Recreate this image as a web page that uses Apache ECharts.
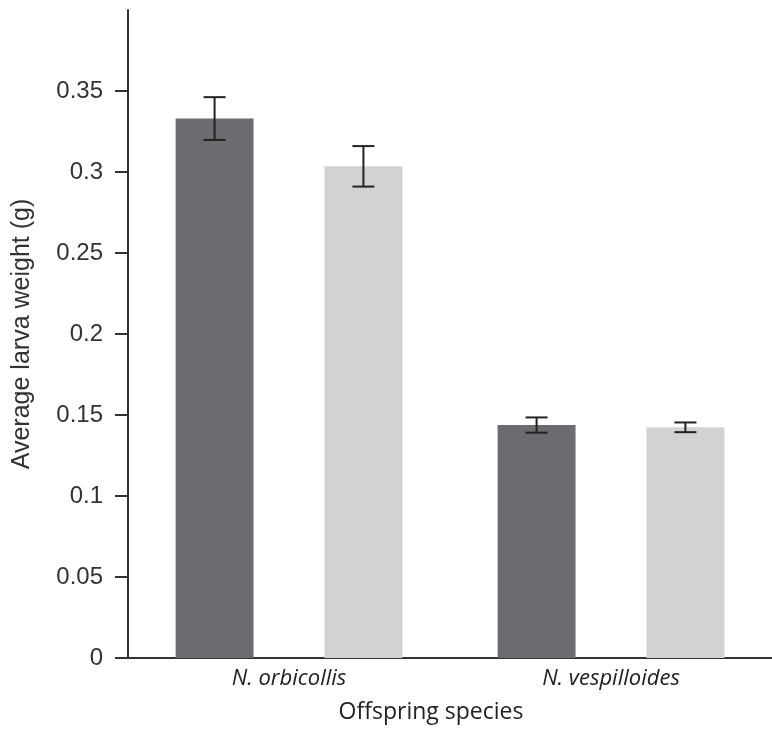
<!DOCTYPE html>
<html>
<head>
<meta charset="utf-8">
<script src="https://cdn.jsdelivr.net/npm/echarts@6/dist/echarts.min.js"></script>
<style>html,body{margin:0;padding:0;background:#fff}#c{width:772px;height:733px}</style>
</head>
<body>
<div id="c"></div>
<script>
const categories = ['N. orbicollis', 'N. vespilloides'];
const darkValues = [0.333, 0.1438];
const darkErrors = [0.0132, 0.0047];
const lightValues = [0.3035, 0.1424];
const lightErrors = [0.0125, 0.0030];
const yTicks = [0, 0.05, 0.1, 0.15, 0.2, 0.25, 0.3, 0.35];

const BAR_FRAC = 0.242;
const GAP_FRAC = 0.91;

function errorSeries(values, errors, side) {
  return {
    type: 'custom',
    z: 10,
    data: values.map((v, i) => [i, v - errors[i], v + errors[i]]),
    renderItem: function (params, api) {
      const band = api.size([1, 0])[0];
      const bw = band * BAR_FRAC;
      const off = side * bw * (1 + GAP_FRAC) / 2;
      const lo = api.coord([api.value(0), api.value(1)]);
      const hi = api.coord([api.value(0), api.value(2)]);
      const x = lo[0] + off;
      const cap = 11;
      const style = { stroke: '#222', lineWidth: 2 };
      return {
        type: 'group',
        children: [
          { type: 'line', shape: { x1: x, y1: lo[1], x2: x, y2: hi[1] }, style },
          { type: 'line', shape: { x1: x - cap, y1: lo[1], x2: x + cap, y2: lo[1] }, style },
          { type: 'line', shape: { x1: x - cap, y1: hi[1], x2: x + cap, y2: hi[1] }, style }
        ]
      };
    }
  };
}

const chart = echarts.init(document.getElementById('c'));
chart.setOption({
  animation: false,
  backgroundColor: '#fff',
  grid: { left: 128, right: 0, top: 10, bottom: 75, containLabel: false },
  xAxis: {
    type: 'category',
    data: categories,
    axisLine: { lineStyle: { color: '#333', width: 2 } },
    axisTick: { show: false },
    axisLabel: { margin: 10, color: '#222', fontFamily: 'Open Sans', fontStyle: 'italic', fontSize: 22 },
    name: 'Offspring species',
    nameLocation: 'middle',
    nameGap: 43,
    nameTextStyle: { color: '#222', fontFamily: 'Open Sans', fontSize: 23, padding: [0, 38, 0, 0] }
  },
  yAxis: {
    type: 'value',
    min: 0,
    max: 0.4,
    interval: 0.05,
    splitLine: { show: false },
    axisLine: { show: true, lineStyle: { color: '#333', width: 2 } },
    axisTick: { show: true, length: 13, lineStyle: { color: '#333', width: 2 }, customValues: yTicks },
    axisLabel: {
      margin: 25, color: '#333', fontFamily: 'Liberation Sans', fontSize: 24,
      formatter: function (v) { return yTicks.some(t => Math.abs(t - v) < 1e-9) ? String(+v.toFixed(2)) : ''; }
    },
    name: 'Average larva weight (g)',
    nameLocation: 'middle',
    nameGap: 93,
    nameTextStyle: { color: '#333', fontFamily: 'Liberation Sans', fontSize: 25 }
  },
  series: [
    { name: 'Dark', type: 'bar', data: darkValues, barWidth: (BAR_FRAC * 100) + '%', barGap: (GAP_FRAC * 100) + '%', itemStyle: { color: '#6b6c70' } },
    { name: 'Light', type: 'bar', data: lightValues, barWidth: (BAR_FRAC * 100) + '%', itemStyle: { color: '#d1d2d4' } },
    errorSeries(darkValues, darkErrors, -1),
    errorSeries(lightValues, lightErrors, 1)
  ]
});
</script>
</body>
</html>
